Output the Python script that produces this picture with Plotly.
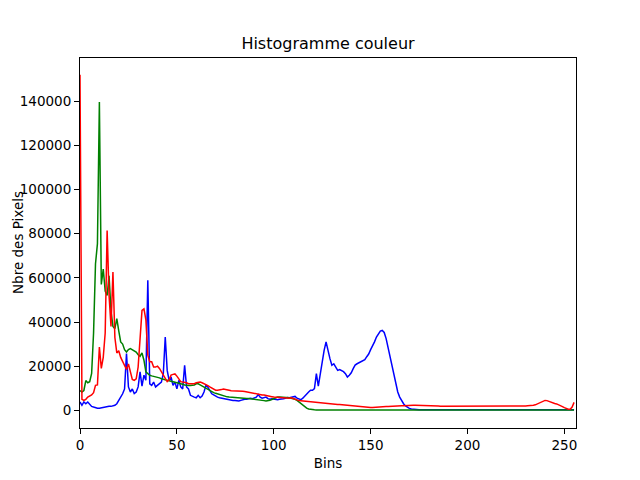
import plotly.graph_objects as go

bins = list(range(256))

blue = [
    3800, 2300, 3800, 3000, 3800, 2500, 1800, 1500, 1200, 1000,
    1000, 1200, 1300, 1500, 1500, 1800, 1800, 2000, 2300, 3000,
    4500, 6500, 7500, 9700, 25700, 10600, 8300, 9700, 7600, 8300,
    10600, 17400, 11000, 15900, 13600, 58900, 12000, 11300, 12800, 10600,
    11300, 12100, 12800, 16600, 33200, 18100, 13600, 15100, 11300, 12800,
    9700, 13600, 10600, 9700, 20400, 10600, 9700, 6800, 6300, 6000,
    5700, 6800, 5700, 6500, 8300, 11300, 10500, 9100, 7500, 7000,
    6300, 6000, 5700, 5500, 5300, 5300, 5000, 4800, 4500, 4500,
    4500, 4300, 4200, 4500, 4800, 5000, 5000, 5300, 5500, 5300,
    5500, 6000, 7200, 6000, 5500, 5800, 6000, 5300, 5000, 5200,
    5000, 4800, 4800, 5000, 5300, 5300, 5500, 5800, 5700, 6000,
    6300, 6300, 5500, 5000, 4800, 5500, 6500, 7800, 8300, 9100,
    9100, 9800, 16600, 11000, 17000, 22700, 27200, 31000, 26400, 23400,
    20400, 21100, 19600, 18100, 18500, 18100, 17500, 16600, 15100, 15900,
    17000, 18900, 20500, 21100, 21600, 22000, 22300, 23000, 24300, 25500,
    27500, 29000, 31000, 33200, 34800, 35900, 36200, 35300, 32500, 28500,
    24200, 19500, 15000, 11500, 8300, 6000, 4300, 3000, 2000, 1300,
    900, 600, 450, 350, 300, 250, 250, 250, 250, 250,
    250, 250, 250, 250, 250, 250, 250, 250, 250, 250,
    250, 250, 250, 250, 250, 250, 250, 250, 250, 250,
    250, 250, 250, 250, 250, 250, 250, 250, 250, 250,
    250, 250, 250, 250, 250, 250, 250, 250, 250, 250,
    250, 250, 250, 250, 250, 250, 250, 250, 250, 250,
    250, 250, 250, 250, 250, 250, 250, 250, 250, 250,
    250, 250, 250, 250, 250, 250, 250, 250, 250, 250,
    250, 250, 250, 250, 250, 250,
]

green = [
    9000, 8300, 9000, 13500, 12500, 13000, 16700, 35000, 66400, 75500,
    139700, 57000, 64000, 54000, 52000, 61000, 45000, 38000, 37000, 41500,
    36000, 31000, 30000, 27500, 26400, 27500, 28000, 27500, 26800, 26400,
    25200, 24500, 26000, 22700, 17400, 16500, 15900, 15600, 15400, 15200,
    15100, 14700, 14300, 14100, 13800, 13600, 13300, 13000, 12800, 12600,
    12400, 12200, 12100, 11800, 11500, 11300, 11300, 11300, 11300, 11500,
    12000, 12000, 11500, 11000, 10300, 9700, 9200, 8700, 8300, 8000,
    7700, 7400, 7200, 6900, 6600, 6300, 6100, 6000, 5900, 5800,
    5700, 5700, 5600, 5600, 5500, 5500, 5400, 5400, 5300, 5300,
    5200, 5100, 5000, 4800, 4600, 4400, 4200, 4300, 4600, 4900,
    5300, 5700, 6000, 6000, 6000, 6000, 6000, 5900, 5700, 5500,
    5300, 5000, 4500, 3800, 3000, 2200, 1500, 1000, 600, 400,
    300, 250, 200, 150, 100, 100, 100, 100, 100, 100,
    100, 100, 100, 100, 100, 100, 100, 100, 100, 100,
    100, 100, 100, 100, 100, 100, 100, 100, 100, 100,
    100, 100, 100, 100, 100, 100, 100, 100, 100, 100,
    100, 100, 100, 100, 100, 100, 100, 100, 100, 100,
    100, 100, 100, 100, 100, 100, 100, 100, 100, 100,
    100, 100, 100, 100, 100, 100, 100, 100, 100, 100,
    100, 100, 100, 100, 100, 100, 100, 100, 100, 100,
    100, 100, 100, 100, 100, 100, 100, 100, 100, 100,
    100, 100, 100, 100, 100, 100, 100, 100, 100, 100,
    100, 100, 100, 100, 100, 100, 100, 100, 100, 100,
    100, 100, 100, 100, 100, 100, 100, 100, 100, 100,
    100, 100, 100, 100, 100, 100, 100, 100, 100, 100,
    100, 100, 100, 100, 100, 100,
]

red = [
    152000, 5000, 4500, 5000, 6000, 6500, 7000, 8000, 11300, 11500,
    28700, 19000, 24000, 35000, 81500, 52000, 38000, 62600, 33000, 26000,
    27000, 24000, 22000, 20500, 18500, 21000, 17500, 14000, 13600, 14300,
    19600, 35500, 45300, 46000, 41000, 25000, 22000, 22000, 19600, 19600,
    20000, 19000, 17500, 16000, 14000, 13000, 13800, 16000, 16300, 16500,
    15500, 14500, 13000, 12800, 12800, 12500, 12100, 12000, 12000, 12100,
    12500, 12800, 12800, 12500, 12100, 11800, 11200, 10600, 10000, 9500,
    9100, 9100, 9100, 9400, 9700, 9400, 9100, 9100, 8900, 8900,
    8900, 8900, 8900, 8800, 8600, 8500, 8300, 8100, 8000, 7800,
    7800, 7600, 7400, 7200, 7000, 6900, 6800, 6600, 6400, 6200,
    6000, 5900, 5800, 5700, 5600, 5500, 5400, 5300, 5500, 5700,
    5300, 4900, 4700, 4400, 4300, 4200, 4100, 4000, 3900, 3800,
    3700, 3600, 3500, 3400, 3300, 3100, 3000, 2900, 2800, 2800,
    2700, 2700, 2600, 2600, 2600, 2500, 2500, 2500, 2400, 2400,
    2300, 2200, 2000, 1900, 1800, 1700, 1600, 1500, 1400, 1300,
    1300, 1300, 1400, 1400, 1500, 1500, 1600, 1600, 1700, 1700,
    1800, 1800, 1900, 1900, 2000, 2000, 2100, 2100, 2200, 2200,
    2200, 2300, 2300, 2300, 2300, 2300, 2300, 2300, 2200, 2200,
    2200, 2100, 2100, 2000, 2000, 2000, 1900, 1900, 1900, 1900,
    1900, 1900, 1900, 2000, 2000, 2000, 1900, 1900, 1900, 1800,
    1800, 1800, 1900, 1900, 1900, 1800, 1800, 1800, 1800, 1800,
    1800, 1800, 1800, 1700, 1700, 1800, 1800, 1900, 1900, 1900,
    1900, 1900, 1900, 1900, 1900, 1900, 1900, 2000, 2000, 2000,
    2000, 2100, 2100, 2200, 2300, 2500, 2900, 3300, 3800, 4200,
    4500, 4400, 4000, 3600, 3300, 3100, 2900, 2600, 2200, 1700,
    1200, 800, 500, 450, 1500, 3600,
]

x_ticks = [0, 50, 100, 150, 200, 250]
y_ticks = [0, 20000, 40000, 60000, 80000, 100000, 120000, 140000]

font_family = "DejaVu Sans"

fig = go.Figure()
for vals, col in [(blue, "#0000ff"), (green, "#008000"), (red, "#ff0000")]:
    fig.add_trace(go.Scatter(x=bins, y=vals, mode="lines",
                             line=dict(color=col, width=1.5),
                             showlegend=False, hoverinfo="skip"))

# The page body has an 8px default margin, so margins compensate for it.
fig.update_layout(
    width=640, height=480,
    margin=dict(l=72, r=72, t=50, b=60, autoexpand=False),
    paper_bgcolor="white", plot_bgcolor="white",
    font=dict(family=font_family, size=13.5, color="black"),
    title=dict(text="Histogramme couleur", x=0.5, xref="paper",
               y=1 - 35 / 480, yref="container", yanchor="middle",
               xanchor="center", font=dict(size=16, color="black")),
    annotations=[dict(text="Nbre des Pixels", textangle=-90,
                      xref="paper", yref="paper", x=-62 / 496, y=0.5,
                      xanchor="center", yanchor="middle", showarrow=False,
                      borderpad=0,
                      font=dict(size=13.5, color="black"))],
)
fig.update_xaxes(
    range=[0, 256], tickvals=x_ticks, ticktext=[str(v) for v in x_ticks],
    ticks="outside", ticklen=5, tickwidth=1, tickcolor="black",
    showline=True, linecolor="black", linewidth=1, mirror=True,
    showgrid=False, zeroline=False, automargin=False,
    title=dict(text="Bins", standoff=6, font=dict(size=13.5)),
)
fig.update_yaxes(
    range=[-8000, 159600], tickvals=y_ticks, ticktext=[str(v) for v in y_ticks],
    ticks="outside", ticklen=5, tickwidth=1, tickcolor="black",
    showline=True, linecolor="black", linewidth=1, mirror=True,
    showgrid=False, zeroline=False, automargin=False,
)

fig.write_html("out.html")
